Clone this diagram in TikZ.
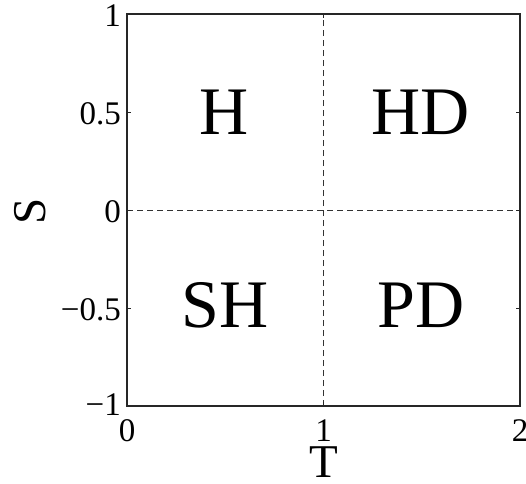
\documentclass[tikz,border=0pt]{standalone}
\usepackage{fontspec}
\setmainfont{Liberation Serif}
\begin{document}
\begin{tikzpicture}[x=1pt,y=-1pt,
  ticklab/.style={inner sep=0pt,font=\fontsize{33}{36}\selectfont},
  axlab/.style={inner sep=0pt,font=\fontsize{47}{50}\selectfont},
  quadlab/.style={inner sep=0pt,font=\fontsize{68}{72}\selectfont},
  frame/.style={draw=black!85,line width=1.1pt},
  guide/.style={draw=black!80,line width=0.7pt,dash pattern=on 6pt off 4pt},
  tickmark/.style={draw=black!85,line width=0.8pt}]
\useasboundingbox (0,0) rectangle (526,483);
% axes box corners
\coordinate (bl) at (127,406);
\coordinate (tr) at (520,14);
\coordinate (tm) at (323.5,14);
\coordinate (bm) at (323.5,406);
\coordinate (lm) at (127,210);
\coordinate (rm) at (520,210);
% dashed guide lines
\draw[guide] (bm) -- (tm);
\draw[guide] (lm) -- (rm);
% ticks
\foreach \yy in {14,112,210,308,406}{
  \draw[tickmark] (127,\yy) -- ++(4,0);
  \draw[tickmark] (520,\yy) -- ++(-4,0);
}
\foreach \xx in {127,323.5,520}{
  \draw[tickmark] (\xx,406) -- ++(0,-4);
  \draw[tickmark] (\xx,14) -- ++(0,4);
}
% frame
\draw[frame] (bl) rectangle (tr);
% y tick labels
\node[ticklab,anchor=east] (y1) at (121,15.5) {1};
\node[ticklab,anchor=east] (y05) at (121,113.5) {0.5};
\node[ticklab,anchor=east] (y0) at (121,211.5) {0};
\node[ticklab,anchor=east] (ym05) at (121,309.5) {−0.5};
\node[ticklab,anchor=east] (ym1) at (121,405) {−1};
% x tick labels
\node[ticklab,anchor=base] (x0) at (127,441) {0};
\node[ticklab,anchor=base] (x1) at (323.5,441) {1};
\node[ticklab,anchor=base] (x2) at (520,441) {2};
% axis labels
\node[axlab,anchor=base] (tl) at (323.5,477.5) {T};
\node[axlab,rotate=90] (sl) at (30,211) {S};
% quadrant labels
\node[quadlab] (qh) at (224,112.5) {H};
\node[quadlab] (qhd) at (421,112.5) {HD};
\node[quadlab] (qsh) at (225,305) {SH};
\node[quadlab] (qpd) at (421,305) {PD};
\end{tikzpicture}
\end{document}
